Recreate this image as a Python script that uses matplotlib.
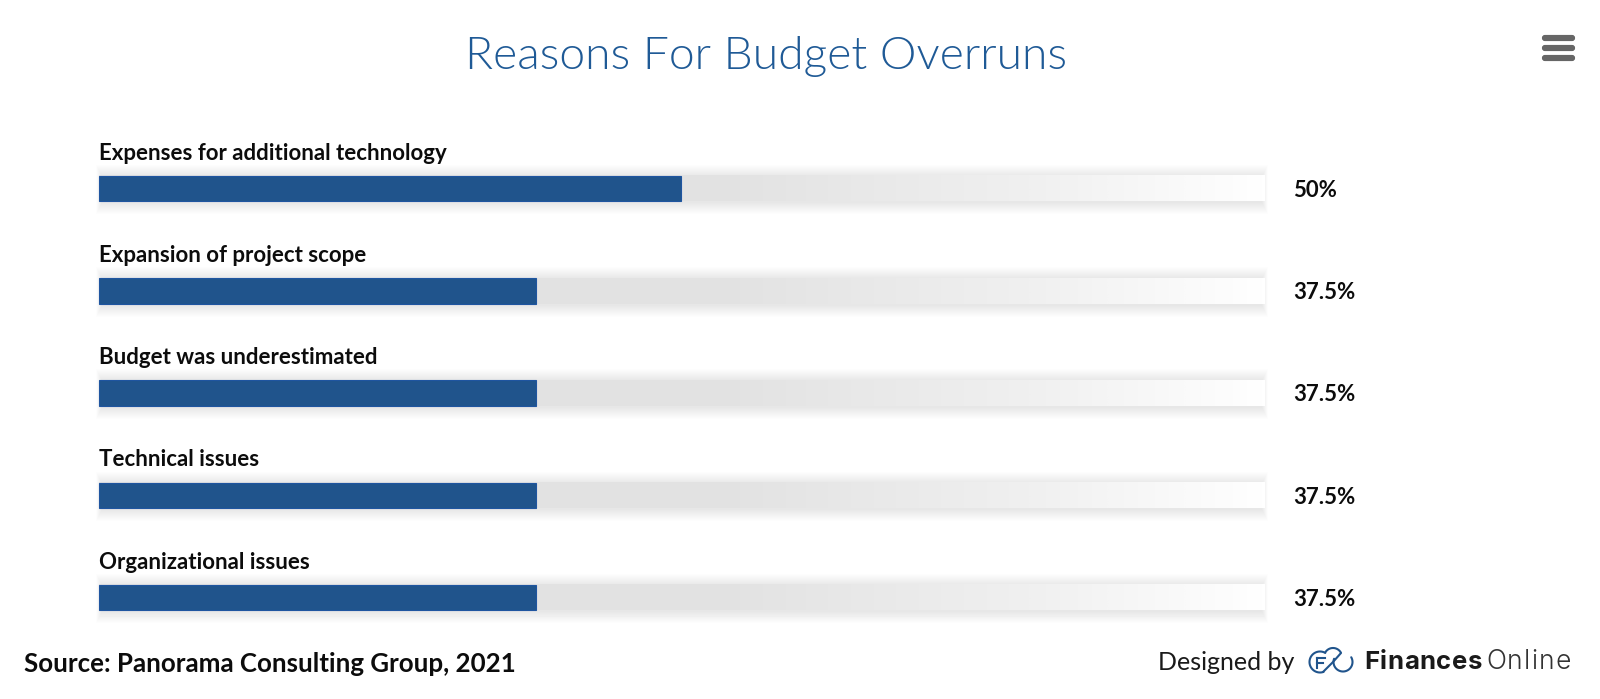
import numpy as np
import matplotlib
matplotlib.use("Agg")
import matplotlib.pyplot as plt
from matplotlib.patches import Rectangle, FancyBboxPatch
from matplotlib.colors import LinearSegmentedColormap

categories = ["Expenses for additional technology", "Expansion of project scope",
              "Budget was underestimated", "Technical issues", "Organizational issues"]
values = [50, 37.5, 37.5, 37.5, 37.5]
value_labels = ["50%", "37.5%", "37.5%", "37.5%", "37.5%"]

W, H = 1600, 699
plt.rcParams['font.family'] = ['Lato', 'DejaVu Sans']
fig = plt.figure(figsize=(W/100, H/100), dpi=100, facecolor='white')

top, step = 188.5, 102.3
L, R = 99, 1263
y0 = top - step/2
y1 = top + 4.5*step
ax = fig.add_axes([L/W, 1 - y1/H, (R-L)/W, (y1-y0)/H])
ax.axis('off')

px_x = 100/(R-L)
px_y = 1/step
bar_h = 25.6*px_y
track_end = 100.17
cmap = LinearSegmentedColormap.from_list('t', [(0, '#e1e1e1'), (0.55, '#e3e3e3'), (0.8, '#f0f0f0'), (1, '#ffffff')])
grad = np.linspace(0, 1, 512).reshape(1, -1)

for i, v in enumerate(values):
    for k in range(1, 13):
        side = 3 - k*0.5
        ax.add_patch(Rectangle((side*px_x, i - bar_h/2 - k*px_y + 1*px_y),
                               track_end - 2*side*px_x,
                               bar_h + 2*k*px_y, fc='black', ec='none', alpha=0.0065,
                               zorder=1, clip_on=False))
    ax.imshow(grad, extent=(0, track_end, i + bar_h/2, i - bar_h/2), cmap=cmap, vmin=0, vmax=1,
              aspect='auto', zorder=2, clip_on=False)
    ax.barh(i, v, height=bar_h, color='#20548c', edgecolor='#1f55a0', linewidth=0.8, zorder=3, clip_on=False)
    ax.annotate(categories[i], (0, i), xytext=(0, 35.5*0.72), textcoords='offset points', fontsize=16,
                fontweight='bold', color='#0c0c0c', ha='left', va='center', annotation_clip=False)
    ax.annotate(value_labels[i], (track_end, i), xytext=(28*0.72, -1.2), textcoords='offset points', fontsize=16,
                fontweight='bold', color='#0c0c0c', ha='left', va='center', annotation_clip=False)
ax.set_xlim(0, 100)
ax.set_ylim(4.5, -0.5)

ov = fig.add_axes([0, 0, 1, 1], facecolor='none')
ov.set_xlim(0, W); ov.set_ylim(H, 0); ov.axis('off')

ov.text(766, 69, "Reasons For Budget Overruns", fontsize=33.3, color='#1f5a96', ha='center', va='baseline', fontweight=300)
ov.text(23.5, 664, "Source: Panorama Consulting Group, 2021", fontsize=18.65, fontweight='bold', color='#0c0c0c', ha='left', va='center')
ov.text(1158, 663, "Designed by", fontsize=18, color='#1a1a1a', ha='left', va='center')

renderer = fig.canvas.get_renderer()
def tracked(s, x, y, width, **kw):
    """Draw s letter by letter so that it spans the given pixel width."""
    def w(part):
        t = ov.text(0, 0, part, **kw)
        e = t.get_window_extent(renderer).width
        t.remove()
        return e
    extra = (width - w(s)) / (len(s) - 1)
    for n, ch in enumerate(s):
        ov.text(x + (w(s[:n]) if n else 0) + n*extra, y, ch, va='baseline', ha='left', **kw)

tracked("Finances", 1364, 669, 118, fontsize=18.5, fontweight='bold', color='#1a1a1a', family='Inter')
tracked("Online", 1486, 669, 85, fontsize=19, fontweight=300, color='#333333', family='Inter')

for y in (38, 48, 58):
    ov.add_patch(FancyBboxPatch((1544, y-1), 29, 2, boxstyle='round,pad=0,rounding_size=1', fc='#666666', ec='#666666', lw=3))

def arc(cx, cy, r, a, b, c='#20548c', lw=1.5):
    t_ = np.radians(np.linspace(a, b, 50))
    ov.plot(cx + r*np.cos(t_), cy - r*np.sin(t_), color=c, lw=lw, solid_capstyle='round')
arc(1320, 662, 10.5, 60, 290)
arc(1343, 662, 9.5, -200, 30)
arc(1333, 657, 9, 30, 150)
ov.plot([1323, 1333, 1341], [672, 662, 653], color='#20548c', lw=1.5, solid_capstyle='round')
ov.plot([1317, 1317], [668, 658], color='#20548c', lw=1.5)
ov.plot([1317, 1325], [658, 658], color='#20548c', lw=1.5)
ov.plot([1317, 1323], [663, 663], color='#20548c', lw=1.5)

fig.savefig('out.png', dpi=100, facecolor='white')
